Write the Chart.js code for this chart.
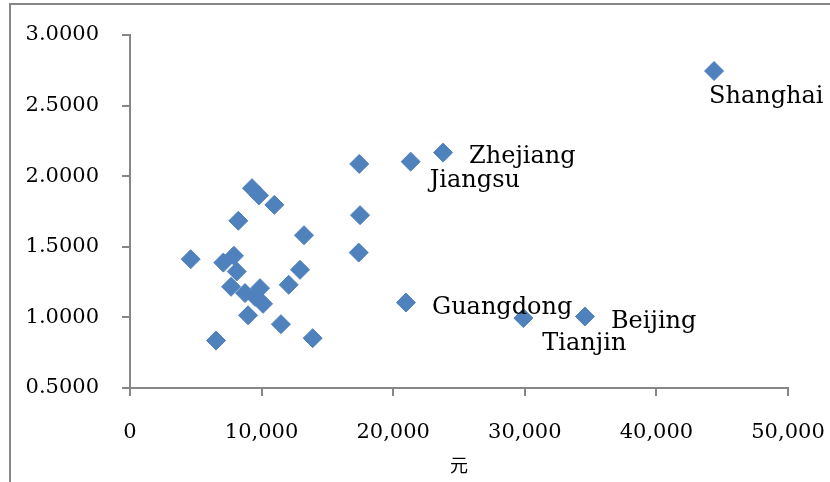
<!DOCTYPE html>
<html>
<head>
<meta charset="utf-8">
<script src="https://cdn.jsdelivr.net/npm/chart.js@4.4.1/dist/chart.umd.min.js"></script>
<style>
  html, body { margin: 0; padding: 0; background: #fff; overflow: hidden; }
  #wrap { position: relative; width: 830px; height: 482px; }
  #frame {
    position: absolute; left: 9px; top: 3px; width: 900px; height: 600px;
    border-left: 2px solid #868686; border-top: 2px solid #868686;
    pointer-events: none;
  }
</style>
</head>
<body>
<div id="wrap">
  <canvas id="scatterChart" width="830" height="482"></canvas>
  <div id="frame"></div>
</div>
<script>
  // provinces: only the named ones carry a label in the picture
  const provinces = [
    "Shanghai", "Beijing", "Tianjin", "Zhejiang", "Jiangsu", "Guangdong",
    "", "", "", "", "", "", "", "", "", "", "", "", "", "", "", "", "", "", "", "", "", "", ""
  ];
  // income (元)
  const income = [
    44380, 34570, 29890, 23790, 21330, 20970,
    9270, 9800, 10970, 8230, 13220, 17420, 17480, 17380, 4610, 7090,
    7900, 8110, 12920, 12060, 7680, 8740, 9880, 9500, 10110, 8970,
    11470, 6540, 13880
  ];
  // ratio
  const ratio = [
    2.745, 1.006, 0.995, 2.167, 2.103, 1.105,
    1.915, 1.864, 1.797, 1.684, 1.582, 2.087, 1.724, 1.459, 1.412, 1.388,
    1.436, 1.325, 1.337, 1.231, 1.217, 1.172, 1.207, 1.146, 1.096, 1.015,
    0.952, 0.836, 0.853
  ];
  const xTicks = [0, 10000, 20000, 30000, 40000, 50000];
  const yTicks = [0.5, 1.0, 1.5, 2.0, 2.5, 3.0];

  // where each label sits relative to its marker (dx to text start, dy to baseline)
  const labelOffsets = {
    Shanghai: [-5, 32],
    Beijing: [26, 11],
    Tianjin: [19, 32],
    Zhejiang: [26, 10],
    Jiangsu: [19, 25],
    Guangdong: [26, 11]
  };

  const serif = '"DejaVu Serif", "Liberation Serif", serif';
  const axisGray = "#868686";

  const pointLabels = {
    id: "pointLabels",
    afterDatasetsDraw(chart) {
      const ctx = chart.ctx;
      const xs = chart.scales.x, ys = chart.scales.y;
      ctx.save();
      ctx.font = "24px " + serif;
      ctx.fillStyle = "#000";
      ctx.textAlign = "left";
      ctx.textBaseline = "alphabetic";
      provinces.forEach(function (name, i) {
        if (!name) return;
        const off = labelOffsets[name];
        ctx.fillText(name, xs.getPixelForValue(income[i]) + off[0], ys.getPixelForValue(ratio[i]) + off[1]);
      });
      ctx.restore();
    }
  };

  const points = income.map(function (v, i) { return { x: v, y: ratio[i] }; });

  const config = {
    type: "scatter",
    data: {
      datasets: [
        {
          label: "provinces",
          data: points,
          pointStyle: "rectRot",
          pointRadius: 9.5,
          pointHoverRadius: 9.5,
          backgroundColor: "#4F81BD",
          borderColor: "#4F81BD",
          borderWidth: 1,
          clip: false,
        },
      ],
    },
    options: {
      responsive: false,
      animation: false,
      events: [],
      layout: { padding: { left: 0, top: 35, right: 42, bottom: 0 } },
      plugins: {
        legend: { display: false },
        tooltip: { enabled: false },
      },
      scales: {
        x: {
          type: "linear",
          min: 0,
          max: 50000,
          afterBuildTicks: function (scale) {
            scale.ticks = xTicks.map(function (v) { return { value: v }; });
          },
          afterFit: function (scale) {
            scale.height = 94;
            scale.paddingLeft = 0;
            scale.paddingRight = 0;
          },
          grid: { drawOnChartArea: false, drawTicks: true, tickLength: 8, color: axisGray, lineWidth: 2 },
          border: { display: true, color: axisGray, width: 2 },
          ticks: {
            color: "#000",
            padding: 24,
            maxRotation: 0,
            font: { family: serif, size: 21 },
            callback: function (v) { return v.toLocaleString("en-US"); },
          },
          title: {
            display: true,
            text: "元",
            color: "#000",
            font: { family: '"Noto Sans CJK JP", "Noto Sans CJK SC", sans-serif', size: 18 },
            padding: { top: 0, bottom: 6 },
          },
        },
        y: {
          type: "linear",
          min: 0.5,
          max: 3.0,
          afterBuildTicks: function (scale) {
            scale.ticks = yTicks.map(function (v) { return { value: v }; });
          },
          afterFit: function (scale) {
            scale.width = 130;
            scale.paddingTop = 0;
            scale.paddingBottom = 0;
          },
          grid: { drawOnChartArea: false, drawTicks: true, tickLength: 8, color: axisGray, lineWidth: 2 },
          border: { display: true, color: axisGray, width: 2 },
          ticks: {
            color: "#000",
            padding: 23,
            font: { family: serif, size: 21 },
            callback: function (v) { return Number(v).toFixed(4); },
          },
        },
      },
    },
    plugins: [pointLabels],
  };

  const chart = new Chart(document.getElementById("scatterChart"), config);
</script>
</body>
</html>
